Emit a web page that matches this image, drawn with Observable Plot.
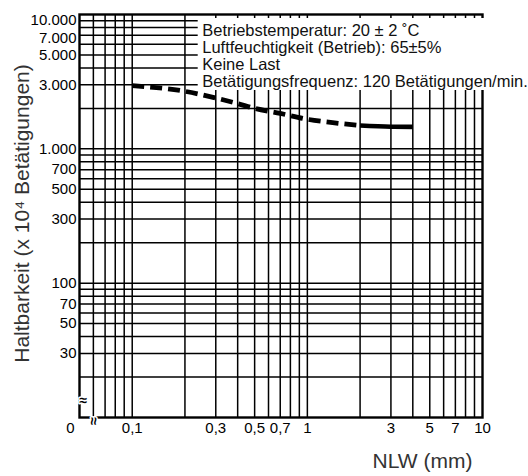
<!DOCTYPE html>
<html><head><meta charset="utf-8">
<script src="https://cdn.jsdelivr.net/npm/d3@7"></script>
<script src="https://cdn.jsdelivr.net/npm/@observablehq/plot@0.6"></script>
<style>body{margin:0;background:#fff} #chart svg{display:block}</style>
</head><body><div id="chart"></div>
<script>
// Curve data (NLW in mm, durability in 10^4 operations)
const dashedX = [0.1, 0.2, 0.3, 0.4, 0.5, 0.7, 1, 1.5, 2];
const dashedY = [2950, 2680, 2390, 2170, 2000, 1835, 1660, 1550, 1490];
const solidX = [2, 3, 4];
const solidY = [1490, 1462, 1458];

// Grid lines
const xGrid = [0.06, 0.07, 0.08, 0.09, 0.1, 0.2, 0.3, 0.4, 0.5, 0.6, 0.7, 0.8, 0.9,
               1, 2, 3, 4, 5, 6, 7, 8, 9];
const yGrid = [20, 30, 40, 50, 60, 70, 80, 90, 100, 200, 300, 400, 500, 600, 700, 800, 900,
               1000, 2000, 3000, 4000, 5000, 6000, 7000, 8000, 9000];

// Tick labels
const xTickValues = [0.1, 0.3, 0.5, 0.7, 1, 3, 5, 7, 10];
const xBreakTick = [0.05];
const xBreakLabel = "0";
const yTickValues = [30, 50, 70, 100, 300, 500, 700, 1000, 3000, 5000];
const yTickUpper1 = [7000];
const yTickUpper2 = [10000];

const notes = [
  "Betriebstemperatur: 20 ± 2 ˚C",
  "Luftfeuchtigkeit (Betrieb): 65±5%",
  "Keine Last",
  "Betätigungsfrequenz: 120 Betätigungen/min."
];
const xTitle = "NLW (mm)";
const yTitle = "Haltbarkeit (x 10⁴ Betätigungen)";

const de = d3.formatLocale({decimal: ",", thousands: ".", grouping: [3], currency: ["", " €"]});
const fmtX = de.format("~g");
const fmtY = de.format(",");

const dashed = dashedX.map((x, i) => ({x, y: dashedY[i]}));
const solid = solidX.map((x, i) => ({x, y: solidY[i]}));

const font = "'Liberation Sans', Arial, Helvetica, sans-serif";
const tickFont = 15;
const notesFont = 16.5, notesLH = 17, notesDx = 122.7, notesDy = 9;

const yLabel = (vals, dy) => Plot.text(vals, {y: d => d, text: d => fmtY(d), frameAnchor: "left",
  textAnchor: "end", dx: -3, dy, fontSize: tickFont, fill: "#000"});

const plot = Plot.plot({
  width: 528, height: 476,
  marginTop: 14, marginRight: 46, marginBottom: 59, marginLeft: 79,
  style: {fontFamily: font, fontSize: "15px", color: "#000", background: "#fff", overflow: "visible"},
  x: {type: "log", domain: [0.05, 10], axis: null},
  y: {type: "log", domain: [10, 10000], axis: null},
  marks: [
    Plot.ruleX(xGrid, {stroke: "#000", strokeWidth: 1.5}),
    Plot.ruleY(yGrid, {stroke: "#000", strokeWidth: 1.5}),
    Plot.frame({stroke: "#000", strokeWidth: 2.4}),
    Plot.line(dashed, {x: "x", y: "y", curve: "monotone-x", stroke: "#000", strokeWidth: 4.8,
      strokeDasharray: "12,6", strokeLinecap: "butt", className: "curve"}),
    Plot.line(solid, {x: "x", y: "y", curve: "monotone-x", stroke: "#000", strokeWidth: 4.6,
      strokeLinecap: "butt"}),
    // x tick labels
    Plot.text(xTickValues, {x: d => d, text: d => fmtX(d), frameAnchor: "bottom", lineAnchor: "top",
      dy: 5, fontSize: tickFont, fill: "#000"}),
    Plot.text(xBreakTick, {x: d => d, text: () => xBreakLabel, frameAnchor: "bottom", lineAnchor: "top",
      dy: 5, dx: -9, fontSize: tickFont, fill: "#000"}),
    // y tick labels
    yLabel(yTickValues, 0),
    yLabel(yTickUpper1, 3),
    yLabel(yTickUpper2, 6),
    // axis break marks
    Plot.text(["≈"], {text: d => d, frameAnchor: "bottom-left", dy: -13, fontSize: 14, fontWeight: "bold",
      stroke: "#fff", strokeWidth: 3, fill: "#000"}),
    Plot.text(["≈"], {text: d => d, frameAnchor: "bottom-left", dx: 9, rotate: 90, fontSize: 14, fontWeight: "bold",
      stroke: "#fff", strokeWidth: 3, fill: "#000"}),
    Plot.text([notes.join("\n")], {text: d => d, frameAnchor: "top-left", dx: notesDx, dy: notesDy,
      lineAnchor: "top", textAnchor: "start", fontSize: notesFont, lineHeight: notesLH / notesFont,
      fill: "#111", className: "notes"}),
    Plot.text([xTitle], {text: d => d, frameAnchor: "bottom-right", dx: -10, dy: 50,
      lineAnchor: "bottom", textAnchor: "end", fontSize: 21, fill: "#333"}),
    Plot.text([yTitle], {text: d => d, frameAnchor: "left", dx: -50.7, dy: -2.5, rotate: -90,
      lineAnchor: "bottom", textAnchor: "middle", fontSize: 21, fill: "#333"})
  ]
});

document.getElementById("chart").append(plot);

// white backing behind the annotation block (hides the grid there, like the original)
const xr = plot.scale("x").range, yr = plot.scale("y").range;
const frameLeft = Math.min(...xr), frameTop = Math.min(...yr);
const boxX = frameLeft + notesDx - 4;
const boxTop = frameTop + 4;
const boxBottom = frameTop + notesDy + notes.length * notesLH - 1;
const rect = document.createElementNS("http://www.w3.org/2000/svg", "rect");
rect.setAttribute("x", boxX);
rect.setAttribute("y", boxTop);
rect.setAttribute("width", 528 - boxX);
rect.setAttribute("height", boxBottom - boxTop);
rect.setAttribute("fill", "#fff");
const curveG = plot.querySelector("g.curve");
curveG.parentNode.insertBefore(rect, curveG);
</script>
</body></html>
